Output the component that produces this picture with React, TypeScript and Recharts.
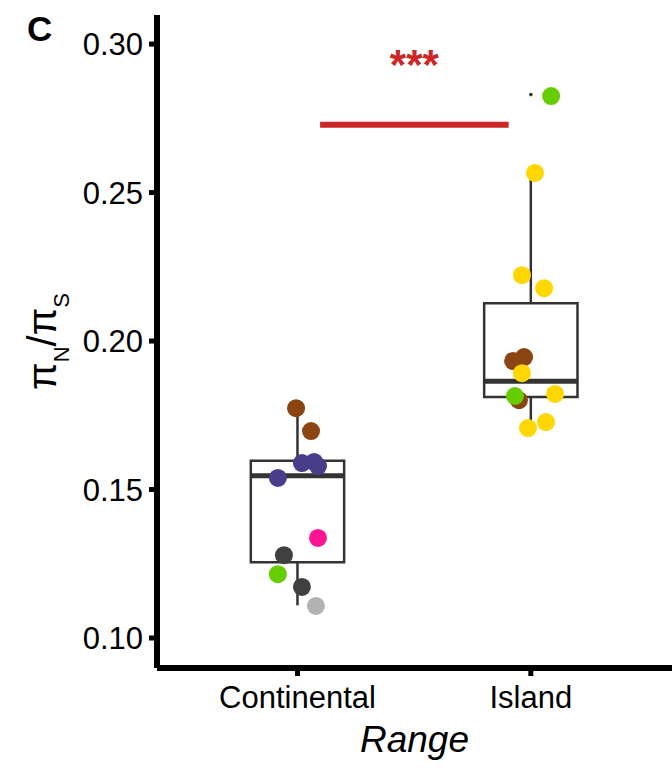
import React from 'react';
import {
  ComposedChart,
  Scatter,
  XAxis,
  YAxis,
  ReferenceArea,
  ReferenceLine,
  Label,
  Customized
} from 'recharts';

const categories = ['Continental', 'Island'];
const yTicks = [0.1, 0.15, 0.2, 0.25, 0.3];

// jittered x positions (1 = Continental, 2 = Island) and piN/piS per sample
const continentalX = [0.994, 1.058, 1.019, 1.071, 1.088, 0.916, 1.088, 0.942, 0.916, 1.019, 1.079];
const continentalY = [0.1774, 0.1697, 0.1589, 0.1593, 0.1579, 0.1539, 0.1337, 0.1279, 0.1215, 0.1172, 0.1108];
const continentalLineage = ['A', 'A', 'B', 'B', 'B', 'B', 'C', 'D', 'E', 'D', 'F'];

const islandX = [2.087, 2.018, 1.962, 2.057, 1.924, 1.971, 1.962, 1.949, 1.932, 2.104, 1.988, 2.065];
const islandY = [0.2825, 0.2566, 0.2222, 0.2178, 0.1933, 0.1946, 0.1892, 0.1801, 0.1815, 0.1822, 0.1707, 0.1727];
const islandLineage = ['E', 'G', 'G', 'G', 'A', 'A', 'G', 'A', 'E', 'G', 'G', 'G'];

// boxplot summaries: lower whisker, Q1, median, Q3, upper whisker
const continentalBox = [0.111, 0.1255, 0.1546, 0.1597, 0.1774];
const islandBox = [0.1707, 0.1812, 0.1865, 0.2127, 0.2566];
const islandOutliers = [0.283];

// significance bracket between the two groups
const sigFrom = 1.097;
const sigTo = 1.905;
const sigY = 0.2728;
const sigLabel = '***';

const lineageColors: Record<string, string> = {
  A: '#8B4513',
  B: '#483D8B',
  C: '#FF1493',
  D: '#404040',
  E: '#66CD00',
  F: '#B3B3B3',
  G: '#FFD700'
};
const lineageOrder = ['D', 'F', 'C', 'B', 'A', 'E', 'G'];

const points = [
  ...continentalX.map((x, i) => ({ x, y: continentalY[i], lineage: continentalLineage[i] })),
  ...islandX.map((x, i) => ({ x, y: islandY[i], lineage: islandLineage[i] }))
];
const outlierPoints = islandOutliers.map(y => ({ x: 2, y }));

const BOX_HALF = 0.2;
const BOX_STROKE = '#333333';

const Dot = (props: any) => (
  <circle cx={props.cx} cy={props.cy} r={9} fill={props.fill} />
);
const SmallDot = (props: any) => (
  <circle cx={props.cx} cy={props.cy} r={1.8} fill={BOX_STROKE} />
);

const YLabel = (props: any) => {
  const vb = props.viewBox || { y: 15, height: 653 };
  const cx = 56;
  const cy = vb.y + vb.height / 2;
  return (
    <text
      transform={`rotate(-90 ${cx} ${cy})`}
      x={cx}
      y={cy}
      textAnchor="middle"
      fontSize={40}
      fill="#000"
    >
      π<tspan dy={13} fontSize={22}>N</tspan>
      <tspan dy={-13} fontSize={40}>/π</tspan>
      <tspan dy={13} fontSize={22}>S</tspan>
    </text>
  );
};

function renderBox(pos: number, box: number[]) {
  const [lo, q1, med, q3, hi] = box;
  return [
    <ReferenceLine key={`wl${pos}`} segment={[{ x: pos, y: lo }, { x: pos, y: q1 }]} stroke={BOX_STROKE} strokeWidth={2.5} />,
    <ReferenceLine key={`wh${pos}`} segment={[{ x: pos, y: q3 }, { x: pos, y: hi }]} stroke={BOX_STROKE} strokeWidth={2.5} />,
    <ReferenceArea key={`b${pos}`} x1={pos - BOX_HALF} x2={pos + BOX_HALF} y1={q1} y2={q3} fill="#fff" fillOpacity={1} stroke={BOX_STROKE} strokeWidth={2.5} />,
    <ReferenceLine key={`m${pos}`} segment={[{ x: pos - BOX_HALF, y: med }, { x: pos + BOX_HALF, y: med }]} stroke={BOX_STROKE} strokeWidth={5} />
  ];
}

export default function App() {
  return (
    <div style={{ position: 'absolute', left: 0, top: 0, fontFamily: '"Liberation Sans", Arial, sans-serif' }}>
      <ComposedChart width={672} height={768} margin={{ top: 15, right: 0, bottom: 0, left: 0 }}>
        <XAxis
          type="number"
          dataKey="x"
          domain={[0.398, 2.605]}
          ticks={[1, 2]}
          tickFormatter={(v: number) => categories[v - 1]}
          allowDataOverflow
          height={100}
          axisLine={{ stroke: '#000', strokeWidth: 6 }}
          tickLine={{ stroke: '#000', strokeWidth: 5 }}
          tickSize={8}
          tickMargin={10}
          tick={{ fill: '#000', fontSize: 31 }}
        >
          <Label value="Range" position="insideBottom" offset={16} fontSize={37} fontStyle="italic" fill="#000" />
        </XAxis>
        <YAxis
          type="number"
          dataKey="y"
          domain={[0.0899, 0.3098]}
          ticks={yTicks}
          tickFormatter={(v: number) => v.toFixed(2)}
          allowDataOverflow
          width={157}
          axisLine={{ stroke: '#000', strokeWidth: 6 }}
          tickLine={{ stroke: '#000', strokeWidth: 5 }}
          tickSize={8}
          tickMargin={6}
          tick={{ fill: '#000', fontSize: 31 }}
          label={<YLabel />}
        />

        {renderBox(1, continentalBox)}
        {renderBox(2, islandBox)}

        <ReferenceLine
          segment={[{ x: sigFrom, y: sigY }, { x: sigTo, y: sigY }]}
          stroke="#CD2626"
          strokeWidth={6}
          label={{ value: sigLabel, position: 'top', offset: 46, fill: '#CD2626', fontSize: 42, fontWeight: 'bold' }}
        />

        <Scatter data={outlierPoints} shape={<SmallDot />} isAnimationActive={false} />
        {lineageOrder.map(l => (
          <Scatter
            key={l}
            data={points.filter(p => p.lineage === l)}
            fill={lineageColors[l]}
            shape={<Dot />}
            isAnimationActive={false}
          />
        ))}

        <Customized
          component={() => (
            <text x={27} y={41} fontSize={35} fontWeight="bold" fill="#000">C</text>
          )}
        />
      </ComposedChart>
    </div>
  );
}
